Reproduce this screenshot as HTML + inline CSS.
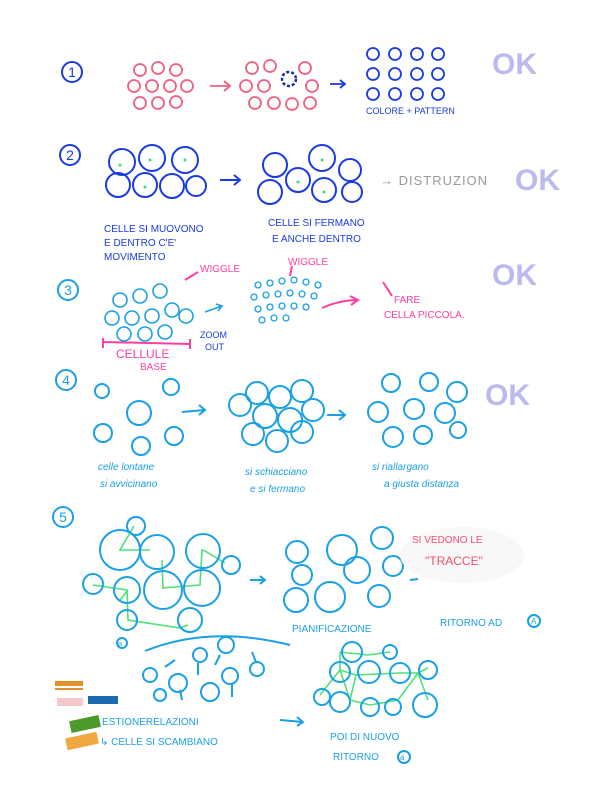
<!DOCTYPE html>
<html><head><meta charset="utf-8"><style>
html,body{margin:0;padding:0;background:#fff;}
svg{display:block}
text{font-family:"Liberation Sans",sans-serif;}
</style></head><body>
<svg width="600" height="800" viewBox="0 0 600 800" xmlns="http://www.w3.org/2000/svg">
<rect width="600" height="800" fill="#fff"/>
<!-- numbers -->
<g fill="none" stroke="#1a3be0" stroke-width="2">
<circle cx="72" cy="72" r="10"/><circle cx="70" cy="155" r="10"/>
</g>
<g fill="none" stroke="#1aa0e6" stroke-width="2">
<circle cx="68" cy="290" r="10"/><circle cx="66" cy="380" r="10"/><circle cx="63" cy="517" r="10"/>
</g>
<g font-size="14" text-anchor="middle">
<text x="72" y="77" fill="#1a3be0">1</text><text x="70" y="160" fill="#1a3be0">2</text>
<text x="68" y="295" fill="#1aa0e6">3</text><text x="66" y="385" fill="#1aa0e6">4</text><text x="63" y="522" fill="#1aa0e6">5</text>
</g>
<!-- OKs -->
<g fill="#a9a9ea" font-size="30" font-weight="bold" opacity="0.8">
<text x="492" y="74">OK</text><text x="515" y="190">OK</text><text x="492" y="285">OK</text><text x="485" y="405">OK</text>
</g>
<!-- row1 -->
<g fill="none" stroke="#f0607e" stroke-width="1.8">
<circle cx="140" cy="70" r="6"/><circle cx="158" cy="68" r="6"/><circle cx="176" cy="70" r="6"/>
<circle cx="134" cy="86" r="6"/><circle cx="152" cy="86" r="6"/><circle cx="170" cy="86" r="6"/><circle cx="187" cy="86" r="6"/>
<circle cx="140" cy="103" r="6"/><circle cx="158" cy="103" r="6"/><circle cx="176" cy="102" r="6"/>
<circle cx="252" cy="68" r="6"/><circle cx="270" cy="66" r="6"/><circle cx="305" cy="68" r="6"/>
<circle cx="246" cy="86" r="6"/><circle cx="264" cy="86" r="6"/><circle cx="312" cy="86" r="6"/>
<circle cx="255" cy="103" r="6"/><circle cx="274" cy="103" r="6"/><circle cx="292" cy="104" r="6"/><circle cx="310" cy="103" r="6"/>
<path d="M210 86 L230 86 M224 81 L230 86 L224 91"/>
</g>
<circle cx="289" cy="79" r="7" fill="none" stroke="#1a2aa0" stroke-width="2.5" stroke-dasharray="3 2"/>
<g fill="none" stroke="#1a3be0" stroke-width="1.8">
<path d="M330 84 L345 84 M340 80 L345 84 L340 88"/>
<circle cx="373" cy="54" r="6"/><circle cx="395" cy="54" r="6"/><circle cx="417" cy="54" r="6"/><circle cx="438" cy="54" r="6"/>
<circle cx="373" cy="74" r="6"/><circle cx="395" cy="74" r="6"/><circle cx="417" cy="74" r="6"/><circle cx="438" cy="74" r="6"/>
<circle cx="373" cy="94" r="6"/><circle cx="395" cy="94" r="6"/><circle cx="417" cy="94" r="6"/><circle cx="438" cy="94" r="6"/>
</g>
<text x="366" y="114" font-size="9" fill="#1a3be0">COLORE + PATTERN</text>
<!-- row2 -->
<g fill="none" stroke="#1a3be0" stroke-width="2">
<circle cx="122" cy="162" r="13"/><circle cx="152" cy="158" r="13"/><circle cx="185" cy="160" r="13"/>
<circle cx="118" cy="185" r="12"/><circle cx="145" cy="185" r="12"/><circle cx="172" cy="186" r="12"/><circle cx="196" cy="186" r="10"/>
<path d="M220 180 L240 180 M234 175 L240 180 L234 185"/>
<circle cx="275" cy="165" r="12"/><circle cx="322" cy="158" r="13"/><circle cx="350" cy="170" r="11"/>
<circle cx="270" cy="192" r="12"/><circle cx="298" cy="180" r="12"/><circle cx="324" cy="190" r="12"/><circle cx="352" cy="192" r="10"/>
</g>
<g fill="#3ee07a"><circle cx="120" cy="165" r="1.5"/><circle cx="150" cy="160" r="1.5"/><circle cx="185" cy="160" r="1.5"/><circle cx="145" cy="187" r="1.5"/><circle cx="298" cy="182" r="1.5"/><circle cx="322" cy="160" r="1.5"/><circle cx="324" cy="192" r="1.5"/></g>
<text x="380" y="185" font-size="13" fill="#999" letter-spacing="1">→ DISTRUZION</text>
<g font-size="10" fill="#1a3be0">
<text x="104" y="232">CELLE SI MUOVONO</text><text x="104" y="246">E DENTRO C'E'</text><text x="104" y="260">MOVIMENTO</text>
<text x="268" y="226">CELLE SI FERMANO</text><text x="272" y="242">E ANCHE DENTRO</text>
</g>
<!-- row3 -->
<g fill="none" stroke="#1aa0e6" stroke-width="1.6">
<circle cx="120" cy="300" r="7"/><circle cx="140" cy="296" r="7"/><circle cx="160" cy="291" r="7"/>
<circle cx="112" cy="318" r="7"/><circle cx="132" cy="318" r="7"/><circle cx="152" cy="316" r="7"/><circle cx="172" cy="310" r="7"/><circle cx="186" cy="316" r="7"/>
<circle cx="124" cy="334" r="7"/><circle cx="145" cy="334" r="7"/><circle cx="165" cy="332" r="7"/>
<path d="M205 312 L222 306 M216 304 L222 306 L218 311"/>
</g>
<g fill="none" stroke="#1aa0e6" stroke-width="1.3">
<circle cx="258" cy="285" r="3"/><circle cx="270" cy="283" r="3"/><circle cx="282" cy="281" r="3"/><circle cx="294" cy="280" r="3"/><circle cx="306" cy="282" r="3"/><circle cx="318" cy="285" r="3"/>
<circle cx="254" cy="297" r="3"/><circle cx="266" cy="295" r="3"/><circle cx="278" cy="294" r="3"/><circle cx="290" cy="293" r="3"/><circle cx="302" cy="294" r="3"/><circle cx="314" cy="296" r="3"/>
<circle cx="258" cy="309" r="3"/><circle cx="270" cy="307" r="3"/><circle cx="282" cy="306" r="3"/><circle cx="294" cy="306" r="3"/><circle cx="306" cy="307" r="3"/>
<circle cx="262" cy="320" r="3"/><circle cx="274" cy="318" r="3"/><circle cx="286" cy="318" r="3"/>
</g>
<g fill="none" stroke="#ff3fa0" stroke-width="2">
<path d="M103 342 L190 344 M103 338 L103 348 M190 339 L190 349"/>
<path d="M322 308 Q340 300 358 300 M350 296 L358 300 L351 305"/>
<path d="M185 280 L198 272"/><path d="M290 276 L292 266"/>
<path d="M383 282 L392 296"/>
</g>
<g fill="#ff3fa0" font-size="10">
<text x="200" y="272">WIGGLE</text><text x="288" y="265">WIGGLE</text>
<text x="116" y="358" font-size="12">CELLULE</text><text x="140" y="370">BASE</text>
<text x="394" y="303">FARE</text><text x="384" y="318">CELLA PICCOLA.</text>
</g>
<text x="200" y="338" font-size="9" fill="#1a3be0">ZOOM</text><text x="205" y="350" font-size="9" fill="#1a3be0">OUT</text>
<!-- row4 -->
<g fill="none" stroke="#1aa0e6" stroke-width="2">
<circle cx="102" cy="391" r="7"/><circle cx="171" cy="387" r="8"/><circle cx="139" cy="413" r="12"/>
<circle cx="103" cy="433" r="9"/><circle cx="174" cy="436" r="9"/><circle cx="141" cy="446" r="9"/>
<path d="M182 412 L205 410 M199 405 L205 410 L199 415"/>
<circle cx="257" cy="393" r="11"/><circle cx="280" cy="397" r="11"/><circle cx="302" cy="391" r="11"/>
<circle cx="240" cy="405" r="11"/><circle cx="265" cy="416" r="12"/><circle cx="290" cy="420" r="12"/><circle cx="313" cy="410" r="11"/>
<circle cx="253" cy="434" r="11"/><circle cx="277" cy="441" r="11"/><circle cx="302" cy="432" r="11"/>
<path d="M327 415 L345 415 M339 410 L345 415 L339 420"/>
<circle cx="391" cy="383" r="9"/><circle cx="429" cy="382" r="9"/><circle cx="457" cy="392" r="10"/>
<circle cx="378" cy="412" r="10"/><circle cx="414" cy="409" r="10"/><circle cx="445" cy="413" r="10"/>
<circle cx="393" cy="437" r="10"/><circle cx="423" cy="435" r="9"/><circle cx="458" cy="430" r="8"/>
</g>
<g font-size="10" fill="#1aa0e6" font-style="italic">
<text x="98" y="470">celle lontane</text><text x="100" y="487">si avvicinano</text>
<text x="245" y="475">si schiacciano</text><text x="250" y="492">e si fermano</text>
<text x="372" y="470">si riallargano</text><text x="384" y="487">a giusta distanza</text>
</g>
<!-- row5 -->
<g fill="none" stroke="#4ee07a" stroke-width="1.6">
<path d="M134 526 L120 550 L150 550"/><path d="M120 550"/>
<path d="M163 588 L162 560 M162 588 L200 585 L202 550 L205 551 L225 563"/>
<path d="M93 585 L127 590 L128 620 L180 628 L188 625"/>
<path d="M128 590 L120 600"/>
<path d="M340 652 L368 655 L390 652 M340 652 L340 670 M340 670 L356 675 L400 673 L418 673 L428 668"/>
<path d="M340 670 L350 700 L356 675 M350 700 L370 705 M370 705 L398 700 L418 673 M418 673 L428 700 M340 670 L320 695"/>
</g>
<g fill="none" stroke="#1aa0e6" stroke-width="2">
<circle cx="136" cy="526" r="9"/><circle cx="120" cy="550" r="20"/><circle cx="157" cy="552" r="17"/><circle cx="203" cy="551" r="17"/>
<circle cx="231" cy="565" r="9"/><circle cx="93" cy="584" r="10"/><circle cx="127" cy="590" r="13"/><circle cx="163" cy="590" r="19"/><circle cx="202" cy="588" r="18"/>
<circle cx="127" cy="620" r="10"/><circle cx="190" cy="620" r="12"/>
<path d="M250 580 L265 580 M260 576 L265 580 L260 584"/>
<circle cx="297" cy="552" r="11"/><circle cx="342" cy="550" r="15"/><circle cx="382" cy="538" r="11"/><circle cx="302" cy="575" r="10"/>
<circle cx="357" cy="570" r="13"/><circle cx="393" cy="566" r="10"/><circle cx="296" cy="600" r="12"/><circle cx="330" cy="597" r="15"/><circle cx="379" cy="596" r="11"/>
<path d="M410 580 L418 579"/>
<path d="M145 651 Q210 625 290 645"/>
<circle cx="200" cy="655" r="7"/><circle cx="226" cy="645" r="8"/><circle cx="150" cy="675" r="7"/><circle cx="178" cy="683" r="9"/>
<circle cx="160" cy="695" r="6"/><circle cx="210" cy="692" r="9"/><circle cx="230" cy="676" r="8"/><circle cx="257" cy="669" r="7"/>
<path d="M165 667 L175 660 M198 663 L198 675 M220 655 L215 665 M180 690 L182 700 M232 684 L232 697 M256 662 L252 652"/>
<circle cx="352" cy="652" r="10"/><circle cx="390" cy="652" r="7"/><circle cx="340" cy="672" r="10"/><circle cx="369" cy="672" r="11"/>
<circle cx="400" cy="673" r="10"/><circle cx="428" cy="670" r="9"/><circle cx="322" cy="697" r="8"/><circle cx="340" cy="702" r="10"/>
<circle cx="370" cy="707" r="9"/><circle cx="393" cy="707" r="8"/><circle cx="425" cy="705" r="12"/>
<path d="M280 720 L303 722 M297 717 L303 722 L297 726"/>
<circle cx="122" cy="643" r="5"/><circle cx="404" cy="757" r="6"/><circle cx="534" cy="621" r="6"/>
</g>
<ellipse cx="462" cy="555" rx="62" ry="28" fill="#f8f8f8"/>
<g fill="#f05070" font-size="10"><text x="412" y="543">SI VEDONO LE</text><text x="425" y="565" font-size="12">"TRACCE"</text></g>
<g font-size="10" fill="#1aa0e6">
<text x="292" y="632">PIANIFICAZIONE</text><text x="440" y="626">RITORNO AD</text><text x="531" y="624" font-size="8">A</text>
<text x="118" y="646" font-size="7">a</text>
<text x="102" y="725">ESTIONERELAZIONI</text><text x="100" y="745">↳ CELLE SI SCAMBIANO</text>
<text x="330" y="740">POI DI NUOVO</text><text x="333" y="760">RITORNO</text><text x="400" y="760" font-size="8">a</text>
</g>
<!-- marker swatches -->
<rect x="55" y="681" width="28" height="5" fill="#e0902a"/><rect x="55" y="688" width="28" height="2" fill="#e0902a"/>
<rect x="57" y="698" width="26" height="8" fill="#f6c8cc"/><rect x="88" y="696" width="30" height="8" fill="#1e6ab0"/>
<rect x="70" y="718" width="30" height="12" fill="#4c9a2a" transform="rotate(-12 85 724)"/>
<rect x="66" y="735" width="32" height="12" fill="#f0a840" transform="rotate(-12 82 741)"/>
</svg>
</body></html>
